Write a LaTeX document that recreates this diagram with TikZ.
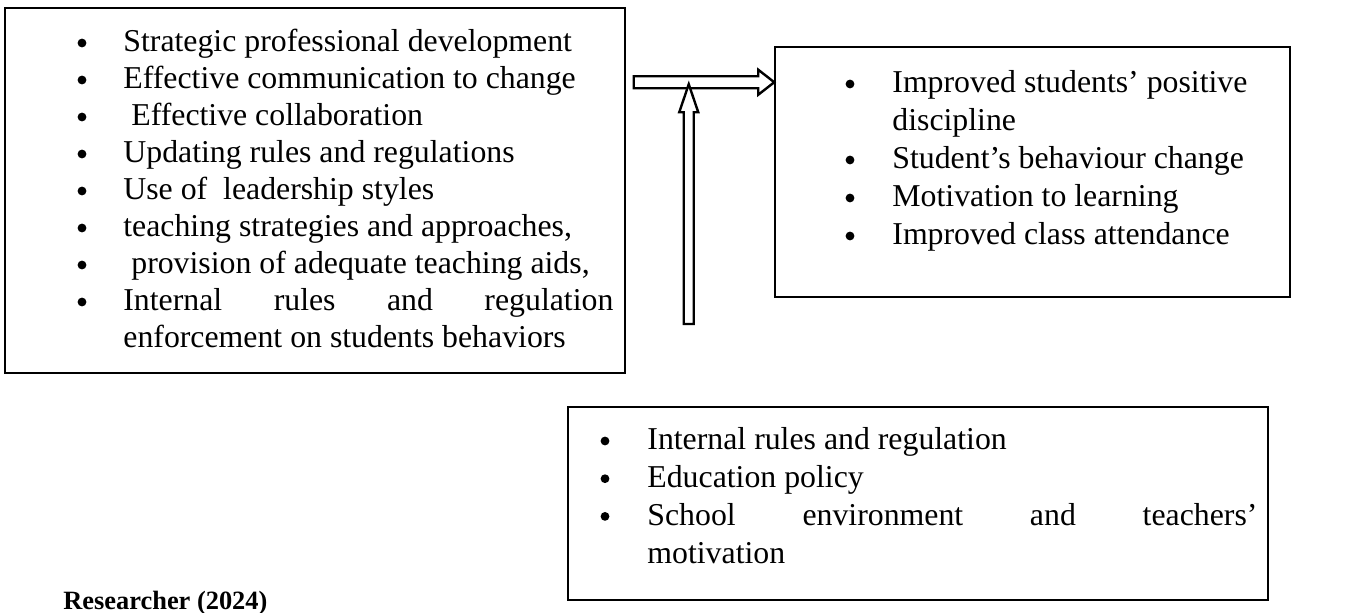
\documentclass[tikz,border=0pt]{standalone}
\usepackage{fontspec}
\setmainfont{Liberation Serif}
\usetikzlibrary{positioning,fit,calc}

\begin{document}
\begin{tikzpicture}[
    x=0.5pt, y=-0.5pt,
    box/.style={rectangle, draw, line width=0.75pt, inner sep=0pt},
    entry/.style={anchor=base west, inner sep=0pt, font=\fontsize{15.9}{18}\selectfont},
    dot/.style={circle, fill, inner sep=0pt, minimum size=4.4pt},
    blockarrow/.style={draw, line width=1.2pt, fill=white, line join=miter},
]
\useasboundingbox (0,0) rectangle (1358,613);

% Boxes
\node[box, fit={(5,8) (625,373)}] (strategies) {};
\node[box, fit={(775,47) (1290,297)}] (outcomes) {};
\node[box, fit={(568,407) (1268,600)}] (factors) {};

% Strategies (left box)
\foreach \txt/\b [count=\i from 0] in {
    Strategic professional development/1,
    Effective communication to change/1,
    {\ Effective collaboration}/1,
    Updating rules and regulations/1,
    {Use of \ leadership styles}/1,
    {teaching strategies and approaches,}/1,
    {\ provision of adequate teaching aids,}/1,
    {\makebox[245pt][s]{Internal rules and regulation}}/1,
    enforcement on students behaviors/0} {
    \node[entry] (strat\i) at (123, 52+37*\i) {\txt};
    \ifnum\b=1
        \node[dot] at (82, 43+37*\i) {};
    \fi
}

% Outcomes (right box)
\foreach \txt/\b [count=\i from 0] in {
    Improved students’ positive/1,
    discipline/0,
    Student’s behaviour change/1,
    Motivation to learning/1,
    Improved class attendance/1} {
    \node[entry] (out\i) at (892, 93+38*\i) {\txt};
    \ifnum\b=1
        \node[dot] at (850, 84+38*\i) {};
    \fi
}

% Factors (bottom box)
\foreach \txt/\b [count=\i from 0] in {
    Internal rules and regulation/1,
    Education policy/1,
    {\makebox[305pt][s]{School environment and teachers’}}/1,
    motivation/0} {
    \node[entry] (fac\i) at (647, 450+37.7*\i) {\txt};
    \ifnum\b=1
        \node[dot] at (605, 441+37.7*\i) {};
    \fi
}

\node[entry, font=\bfseries\fontsize{13.2}{15}\selectfont] (source) at (63,610) {Researcher (2024)};

% Block arrows
\coordinate (hstart) at ($(strategies.north east)+(8,75)$);
\coordinate (htip) at (outcomes.west |- hstart);
\draw[blockarrow] ($(hstart)+(0,-6)$) -- ($(htip)+(-16,-6)$) -- ($(htip)+(-16,-12.5)$)
    -- (htip) -- ($(htip)+(-16,12.5)$) -- ($(htip)+(-16,6)$) -- ($(hstart)+(0,6)$) -- cycle;

\coordinate (vtip) at ($(hstart)+(55,2)$);
\coordinate (vbase) at (vtip |- 0,324);
\draw[blockarrow] ($(vbase)+(-5,0)$) -- ($(vtip)+(-5,28)$) -- ($(vtip)+(-9.5,28)$)
    -- (vtip) -- ($(vtip)+(9.5,28)$) -- ($(vtip)+(5,28)$) -- ($(vbase)+(5,0)$) -- cycle;

\end{tikzpicture}
\end{document}
